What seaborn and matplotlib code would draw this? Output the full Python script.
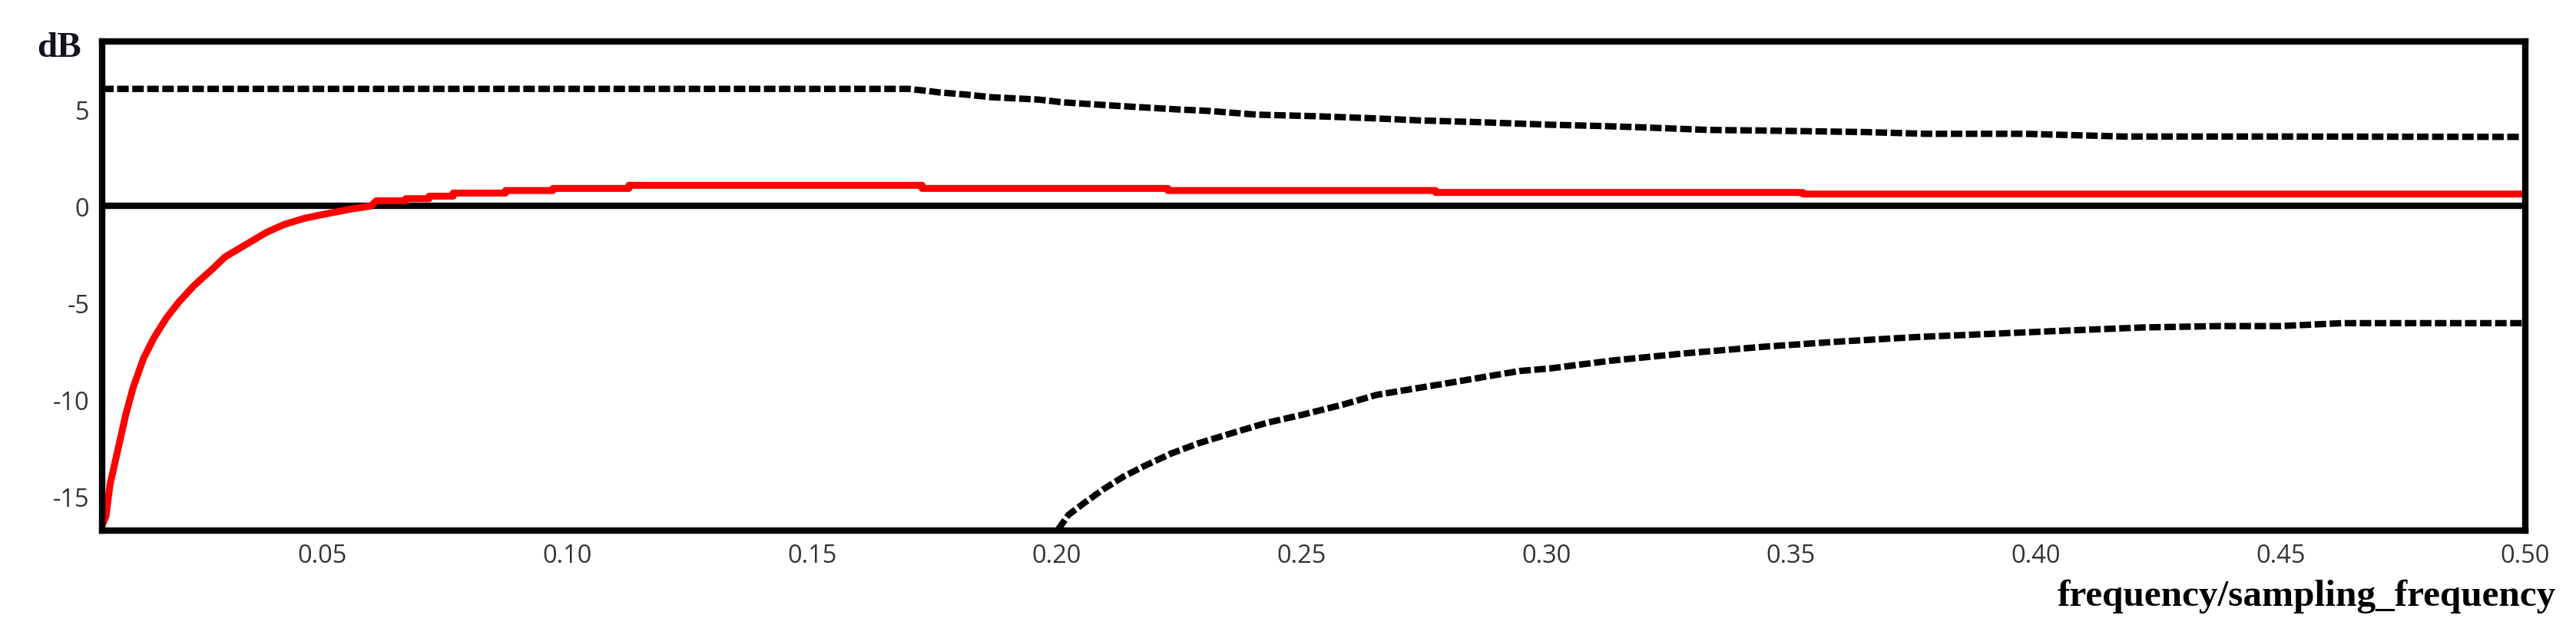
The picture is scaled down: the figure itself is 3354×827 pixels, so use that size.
import matplotlib
matplotlib.use("Agg")
import matplotlib.pyplot as plt
import seaborn as sns

# respuesta del filtro (rojo) y limites superior / inferior (discontinuos)
freq_red = [0.005, 0.0058, 0.0066, 0.0082, 0.0098, 0.0113, 0.0134, 0.0155, 0.0181,
            0.0207, 0.0238, 0.0275, 0.0301, 0.0343, 0.0385, 0.0422, 0.0464, 0.0502,
            0.0560, 0.0599, 0.0610, 0.0670, 0.0670, 0.0718, 0.0718, 0.0767, 0.0767,
            0.0874, 0.0874, 0.0971, 0.0971, 0.1126, 0.1126, 0.1725, 0.1725, 0.2227,
            0.2227, 0.2774, 0.2774, 0.3524, 0.3524, 0.5]
db_red = [-16.5, -16.0, -14.4, -12.6, -10.8, -9.4, -7.9, -6.84, -5.79,
          -4.95, -4.10, -3.26, -2.63, -2.00, -1.37, -0.95, -0.63, -0.43,
          -0.15, 0.0, 0.27, 0.27, 0.38, 0.38, 0.51, 0.51, 0.67,
          0.67, 0.80, 0.80, 0.91, 0.91, 1.07, 1.07, 0.91, 0.91,
          0.80, 0.80, 0.70, 0.70, 0.62, 0.62]

freq_upper = [0.005, 0.1697, 0.1738, 0.1759, 0.1813, 0.1867, 0.1962, 0.2011, 0.2107,
              0.2239, 0.2311, 0.2408, 0.2527, 0.2648, 0.2744, 0.2863, 0.3007, 0.3116,
              0.3200, 0.3332, 0.3440, 0.3651, 0.3776, 0.3977, 0.4178, 0.4504, 0.5]
db_upper = [6.05, 6.05, 5.94, 5.87, 5.76, 5.62, 5.50, 5.36, 5.20,
            5.00, 4.91, 4.72, 4.64, 4.53, 4.42, 4.33, 4.20, 4.13,
            4.06, 3.93, 3.90, 3.82, 3.73, 3.73, 3.59, 3.59, 3.57]

freq_lower = [0.2003, 0.2024, 0.2058, 0.2094, 0.2136, 0.2177, 0.2234, 0.2290, 0.2359,
              0.2430, 0.2500, 0.2584, 0.2654, 0.2805, 0.2945, 0.3007, 0.3131, 0.3287,
              0.3443, 0.3598, 0.3754, 0.3910, 0.4065, 0.4220, 0.4376, 0.4500, 0.4625, 0.5]
db_lower = [-16.7, -15.95, -15.3, -14.65, -13.98, -13.45, -12.78, -12.25, -11.72,
            -11.19, -10.79, -10.26, -9.75, -9.12, -8.52, -8.39, -7.99, -7.6,
            -7.27, -7.0, -6.77, -6.6, -6.43, -6.27, -6.2, -6.2, -6.05, -6.05]

xticks = [0.05, 0.10, 0.15, 0.20, 0.25, 0.30, 0.35, 0.40, 0.45, 0.50]
yticks = [5, 0, -5, -10, -15]

sns.set_style("white")
plt.rcParams['font.family'] = ['Open Sans', 'DejaVu Sans']
plt.rcParams['axes.unicode_minus'] = False

fig = plt.figure(figsize=(33.54, 8.28), dpi=100)
ax = fig.add_axes([0.03965, 0.1646, 0.94067, 0.769])

ax.axhline(0, color='black', lw=6, zorder=1)
sns.lineplot(x=freq_upper, y=db_upper, ax=ax, color='black', lw=6,
             estimator=None, sort=False, linestyle=(0, (1.8, 0.55)))
sns.lineplot(x=freq_lower, y=db_lower, ax=ax, color='black', lw=6,
             estimator=None, sort=False, linestyle=(0, (1.8, 0.55)))
sns.lineplot(x=freq_red, y=db_red, ax=ax, color='#ff0000', lw=6.5,
             estimator=None, sort=False)

ax.set_xlim(0.005, 0.5)
ax.set_ylim(-16.75, 8.5)
ax.set_xticks(xticks)
ax.set_xticklabels([f"{t:.2f}" for t in xticks])
ax.set_yticks(yticks)
ax.set_yticklabels([str(t) for t in yticks])
ax.tick_params(direction='in', length=10, width=4.5, labelsize=23.5,
               labelcolor='#333333', color='black')
ax.tick_params(axis='x', pad=12)
ax.tick_params(axis='y', pad=12)
for s in ax.spines.values():
    s.set_visible(True)
    s.set_color('black')
    s.set_linewidth(6)
ax.set_xlabel('')
ax.set_ylabel('')

fig.text(0.0143, 0.924, 'dB', family='Liberation Serif', fontweight='bold',
         fontsize=34, color='#111122', ha='left', va='center')
fig.text(0.9922, 0.062, 'frequency/sampling_frequency', family='Liberation Serif',
         fontweight='bold', fontsize=35.5, color='black', ha='right', va='center')

fig.savefig('out.png', dpi=100, facecolor='white')
